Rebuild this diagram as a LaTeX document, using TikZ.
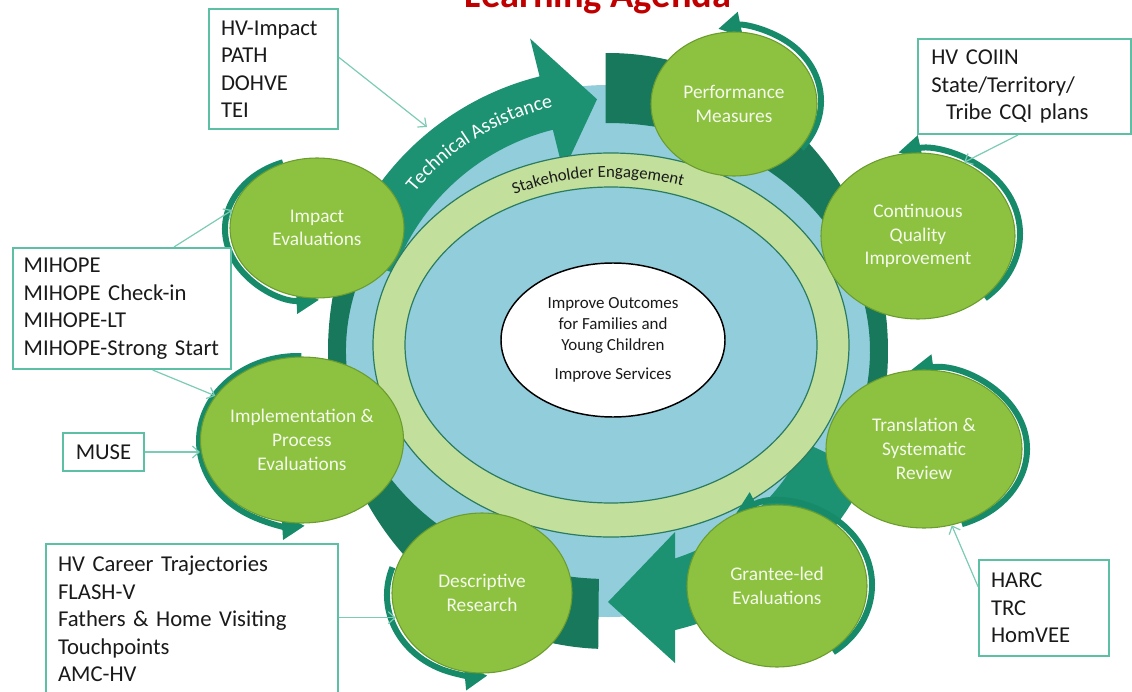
\documentclass[tikz,border=0pt]{standalone}
\usepackage{fontspec}
\setmainfont{Carlito}
\usetikzlibrary{arrows.meta, shapes.geometric, decorations.text}

\definecolor{ringdark}{HTML}{17785B}
\definecolor{ringteal}{HTML}{1C9273}
\definecolor{loopteal}{HTML}{178B69}
\definecolor{bluefill}{HTML}{92CDDC}
\definecolor{stakefill}{HTML}{C2DF9C}
\definecolor{stakeedge}{HTML}{2A7B5F}
\definecolor{stagefill}{HTML}{8DC140}
\definecolor{stageedge}{HTML}{6A9C2E}
\definecolor{stagetext}{HTML}{F4FAEC}
\definecolor{boxedge}{HTML}{5DBFA3}
\definecolor{connline}{HTML}{7CCBB4}
\definecolor{titlered}{HTML}{C00000}
\definecolor{inktext}{HTML}{1A1A1A}

\begin{document}
\begin{tikzpicture}[x=0.75pt, y=-0.75pt,
		stage/.style={ellipse, fill=stagefill, draw=stageedge, line width=0.8pt, inner sep=0pt, align=center, text=stagetext, font=\fontsize{14.5}{17.8}\selectfont},
		refbox/.style={draw=boxedge, line width=1.5pt, fill=white, anchor=north west, align=left, inner xsep=9pt, text=inktext, font=\fontsize{17}{20.6}\selectfont},
		cyclearc/.style={draw=loopteal, line width=4.5pt, -{Triangle[length=17pt, width=18pt]}},
		conn/.style={draw=connline, line width=0.9pt, -{Straight Barb[length=5pt, width=9pt]}}]
		\useasboundingbox (0,0) rectangle (1132,692);
		\clip (0,0) rectangle (1132,692);
		\coordinate (ring) at (608,351);
		
		\node[font=\fontsize{28.8}{34}\selectfont\bfseries, text=titlered, anchor=base] (title) at (598,8) {Learning Agenda};
		
		\fill[bluefill] (ring) ellipse [x radius=271, y radius=266];
		
		\fill[ringdark] ([shift={(-90.5:280 and 298)}]ring) arc[start angle=-90.5, end angle=40, x radius=280, y radius=298]
			-- ([shift={(40:262 and 228)}]ring) arc[start angle=40, end angle=-90.5, x radius=262, y radius=228] -- cycle;
		\fill[ringdark] ([shift={(92:280 and 298)}]ring) arc[start angle=92, end angle=212, x radius=280, y radius=298]
			-- ([shift={(212:262 and 228)}]ring) arc[start angle=212, end angle=92, x radius=262, y radius=228] -- cycle;
		
		\fill[ringteal] ([shift={(200:283)}]ring) arc[start angle=200, end angle=256, radius=283]
			-- ([shift={(256:322)}]ring) -- ([shift={(267.5:252)}]ring) -- ([shift={(256:185)}]ring)
			-- ([shift={(256:228)}]ring) arc[start angle=256, end angle=200, radius=228] -- cycle;
		\fill[ringteal] ([shift={(25:287)}]ring) arc[start angle=25, end angle=76.5, radius=287]
			-- (675,663) -- ([shift={(90:251)}]ring) -- (675,532)
			-- ([shift={(72.1:218)}]ring) arc[start angle=72.1, end angle=25, radius=218] -- cycle;
		\path[decorate, decoration={text along path, text align=center,
			text={|\fontsize{15}{18}\selectfont\color{white}|Technical Assistance}}]
			([shift={(200:250)}]ring) arc[start angle=200, end angle=276.6, radius=250];
		
		\filldraw[fill=stakefill, draw=stakeedge, line width=0.9pt, even odd rule]
			(611,345) ellipse [x radius=238, y radius=192] (611,345) ellipse [x radius=206, y radius=158];
		\path[decorate, decoration={text along path, text align=center,
			text={|\fontsize{12.6}{15}\selectfont\color{inktext}|Stakeholder Engagement}}]
			([shift={(216:217 and 168)}]611,345) arc[start angle=216, end angle=316, x radius=217, y radius=168];
		
		\node[ellipse, draw=black, line width=1.1pt, fill=white, minimum width=168pt, minimum height=115.5pt, align=center, text=inktext, font=\fontsize{12.7}{15.75}\selectfont] (goal) at (613,340)
			{Improve Outcomes\\for Families and\\Young Children\\[6pt]Improve Services};
		
		\foreach \cx/\cy/\rx/\ry/\a/\b in {313/229/88/71/250/86, 298/441/99/85/272/86, 478/595/91/81/200/84, 781/585/91/82/55/-120, 928/449/99/80/70/-100, 922/234/98/84/50/-104, 737/101/84/74/40/-103}
			\draw[cyclearc] ([shift={(\a:{\rx} and {\ry})}]\cx,\cy) arc[start angle=\a, end angle=\b, x radius=\rx, y radius=\ry];
		
		\node[stage, minimum width=130.5pt, minimum height=105pt] (impact) at (317,228) {Impact\\Evaluations};
		\node[stage, minimum width=147pt, minimum height=124.5pt] (impl) at (302,440) {Implementation \&\\Process\\Evaluations};
		\node[stage, minimum width=135pt, minimum height=120pt] (descr) at (482,593) {Descriptive\\Research};
		\node[stage, minimum width=135pt, minimum height=121.5pt] (grantee) at (777,586) {Grantee-led\\Evaluations};
		\node[stage, minimum width=147pt, minimum height=118.5pt] (transl) at (924,449) {Translation \&\\Systematic\\Review};
		\node[stage, minimum width=145.5pt, minimum height=124.5pt] (cqi) at (918,236) {Continuous\\Quality\\Improvement};
		\node[stage, minimum width=124.5pt, minimum height=108pt] (perf) at (734,104) {Performance\\Measures};
		
		\node[refbox, minimum width=96.75pt, minimum height=90pt, text width=78.75pt] (tabox) at (208,8) {HV-Impact\\PATH\\DOHVE\\TEI};
		\node[refbox, minimum width=159pt, minimum height=71.25pt, text width=140pt, inner xsep=10pt] (coiin) at (917,38) {HV COIIN\\State/Territory/\\\hspace*{11pt}Tribe CQI plans};
		\node[refbox, minimum width=163.5pt, minimum height=90.75pt, text width=147.5pt, inner xsep=8pt] (mihope) at (12,247) {MIHOPE\\MIHOPE Check-in\\MIHOPE-LT\\MIHOPE-Strong Start};
		\node[refbox, minimum width=60.75pt, minimum height=28.5pt, align=center, inner xsep=4pt] (muse) at (62,432) {MUSE};
		\node[refbox, minimum width=219pt, minimum height=112.5pt, text width=201pt] (career) at (45,543) {HV Career Trajectories\\FLASH-V\\Fathers \& Home Visiting\\Touchpoints\\AMC-HV};
		\node[refbox, minimum width=97.5pt, minimum height=72pt, text width=79.5pt] (harc) at (978,559) {HARC\\TRC\\HomVEE};
		
		\coordinate (tahit) at (427,127);
		\draw[conn] (tabox.10) -- (tahit);
		\draw[conn] ([xshift=-5pt]coiin.south) -- (cqi.58);
		\draw[conn] ([xshift=39pt]mihope.north) -- (impact.168);
		\draw[conn] ([xshift=23pt]mihope.south) -- (impl.153);
		\draw[conn] (muse.east) -- (muse.east -| impl.west);
		\draw[conn] (career.east |- descr.196) -- (descr.196);
		\draw[conn] (harc.162) -- (transl.-70);
	\end{tikzpicture}
\end{document}
